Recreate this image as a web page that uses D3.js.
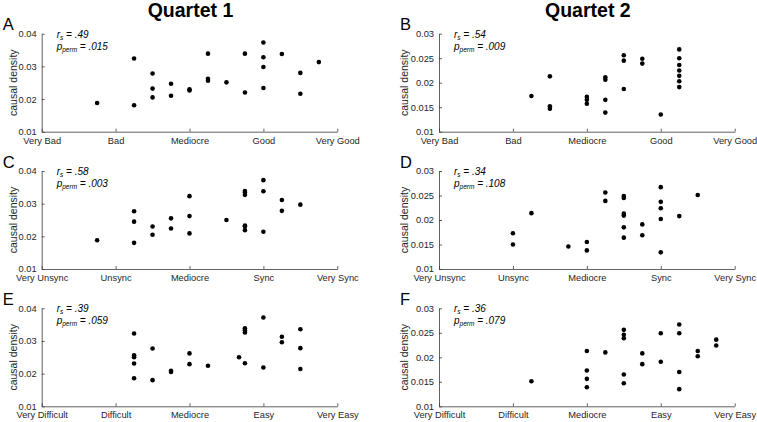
<!DOCTYPE html>
<html><head><meta charset="utf-8">
<script src="https://cdn.jsdelivr.net/npm/d3@7"></script>
<style>
html,body{margin:0;padding:0;background:#fff;}
svg{display:block;font-family:"Liberation Sans",Arial,sans-serif;}
</style></head>
<body>
<svg id="chart" width="757" height="422"></svg>
<script>
// ---- Data ----
const goodLabels = ["Very Bad","Bad","Mediocre","Good","Very Good"];
const syncLabels = ["Very Unsync","Unsync","Mediocre","Sync","Very Sync"];
const diffLabels = ["Very Difficult","Difficult","Mediocre","Easy","Very Easy"];
const yTicksQ1 = [0.01,0.02,0.03,0.04];
const yTicksQ2 = [0.01,0.015,0.02,0.025,0.03];
const quartetTitles = ["Quartet 1","Quartet 2"];

const aX = [1.75,2.25,2.25,2.5,2.5,2.5,2.75,2.75,3,3,3.25,3.25,3.25,3.5,3.75,3.75,4,4,4,4,4.25,4.5,4.5,4.75];
const aY = [0.0188,0.0324,0.0181,0.0278,0.0232,0.0205,0.0247,0.0210,0.0230,0.0226,0.0339,0.0262,0.0256,0.0251,0.0339,0.0220,0.0373,0.0328,0.0298,0.0234,0.0338,0.0280,0.0216,0.0313];

const bX = [2.25,2.5,2.5,2.5,3,3,3,3.25,3.25,3.25,3.25,3.5,3.5,3.5,3.75,3.75,4,4.25,4.25,4.25,4.25,4.25,4.25,4.25];
const bY = [0.0173,0.0213,0.0152,0.0147,0.0171,0.0165,0.0157,0.0211,0.0206,0.0165,0.0139,0.0256,0.0245,0.0187,0.0249,0.0239,0.0135,0.0268,0.0250,0.0236,0.0225,0.0214,0.0203,0.0191];

const cX = [1.75,2.25,2.25,2.25,2.5,2.5,2.75,2.75,3,3,3,3.5,3.75,3.75,3.75,3.75,3.75,3.75,4,4,4,4.25,4.25,4.5];
const cY = [0.0188,0.0277,0.0245,0.0180,0.0230,0.0205,0.0255,0.0224,0.0323,0.0262,0.0209,0.0250,0.0339,0.0334,0.0327,0.0233,0.0231,0.0219,0.0372,0.0338,0.0214,0.0311,0.0278,0.0297];

const dX = [2,2,2.25,2.75,3,3,3.25,3.25,3.5,3.5,3.5,3.5,3.5,3.5,3.75,3.75,4,4,4,4,4,4.25,4.5];
const dY = [0.0173,0.0150,0.0214,0.0146,0.0155,0.0138,0.0256,0.0239,0.0249,0.0245,0.0213,0.0209,0.0185,0.0164,0.0191,0.0169,0.0267,0.0237,0.0224,0.0202,0.0134,0.0208,0.0251];

const eX = [2.25,2.25,2.25,2.25,2.25,2.5,2.5,2.75,2.75,3,3,3.25,3.67,3.75,3.75,3.75,3.75,4,4,4.25,4.25,4.5,4.5,4.5];
const eY = [0.0323,0.0256,0.0250,0.0231,0.0186,0.0277,0.0180,0.0209,0.0205,0.0262,0.0229,0.0224,0.0250,0.0339,0.0333,0.0326,0.0232,0.0372,0.0219,0.0313,0.0296,0.0336,0.0278,0.0214];

const fX = [2.25,3,3,3,3,3.25,3.5,3.5,3.5,3.5,3.5,3.75,3.75,4,4,4.25,4.25,4.25,4.25,4.5,4.5,4.75,4.75];
const fY = [0.0151,0.0213,0.0173,0.0156,0.0139,0.0210,0.0256,0.0246,0.0239,0.0165,0.0147,0.0208,0.0186,0.0249,0.0191,0.0267,0.0249,0.0170,0.0135,0.0213,0.0202,0.0236,0.0224];

const letters = ["A","B","C","D","E","F"];
const rsVals = [".49",".54",".58",".34",".39",".36"];
const pVals = [".015",".009",".003",".108",".059",".079"];

// ---- Layout ----
const svg = d3.select("#chart");
const colX = [[41.7,337.3],[439,734.7]];
const colYLabelOffset = [24.3,30.8];
const rowTop = [33.7,171,308.3];
const plotH = 98;
const axisColor = "#3a3a3a";

const panels = [
  {x:aX,y:aY,col:0,row:0,labels:goodLabels,yt:yTicksQ1,yd:[0.01,0.04]},
  {x:bX,y:bY,col:1,row:0,labels:goodLabels,yt:yTicksQ2,yd:[0.01,0.03]},
  {x:cX,y:cY,col:0,row:1,labels:syncLabels,yt:yTicksQ1,yd:[0.01,0.04]},
  {x:dX,y:dY,col:1,row:1,labels:syncLabels,yt:yTicksQ2,yd:[0.01,0.03]},
  {x:eX,y:eY,col:0,row:2,labels:diffLabels,yt:yTicksQ1,yd:[0.01,0.04]},
  {x:fX,y:fY,col:1,row:2,labels:diffLabels,yt:yTicksQ2,yd:[0.01,0.03]}
];

// titles
quartetTitles.forEach((t,i)=>{
  svg.append("text").attr("x",(colX[i][0]+colX[i][1])/2 + 1).attr("y",16.5)
    .attr("text-anchor","middle").attr("font-size",19.5).attr("font-weight","bold")
    .attr("fill","#000").text(t);
});

panels.forEach((p,i)=>{
  const x0 = colX[p.col][0], x1 = colX[p.col][1];
  const y0 = rowTop[p.row], y1 = y0 + plotH;
  const xs = d3.scaleLinear().domain([1,5]).range([x0,x1]);
  const ys = d3.scaleLinear().domain(p.yd).range([y1,y0]);
  const g = svg.append("g");

  // x axis
  const xAxis = d3.axisBottom(xs).tickValues([1,2,3,4,5])
    .tickFormat((d)=>p.labels[d-1]).tickSizeInner(-3).tickSizeOuter(0).tickPadding(7);
  const gx = g.append("g").attr("transform",`translate(0,${y1})`).call(xAxis);
  // y axis
  const yAxis = d3.axisLeft(ys).tickValues(p.yt)
    .tickFormat(d=>String(+d.toFixed(3))).tickSizeInner(-3).tickSizeOuter(0).tickPadding(5);
  const gy = g.append("g").attr("transform",`translate(${x0},0)`).call(yAxis);
  [gx,gy].forEach(a=>{
    a.select(".domain").attr("stroke",axisColor).attr("stroke-width",0.8);
    a.selectAll(".tick line").attr("stroke",axisColor).attr("stroke-width",0.8);
    a.selectAll(".tick text").attr("fill","#262626").attr("font-size",9.3)
      .attr("font-family","\"Liberation Sans\",Arial,sans-serif");
  });
  gx.selectAll(".tick text").attr("dy","0.55em");

  // y label
  g.append("text").attr("transform",`translate(${x0-colYLabelOffset[p.col]},${(y0+y1)/2}) rotate(-90)`)
    .attr("text-anchor","middle").attr("font-size",10.5).attr("fill","#262626").text("causal density");

  // panel letter
  g.append("text").attr("x",x0-39).attr("y",y0-3.5).attr("font-size",16.5).attr("fill","#000").text(letters[i]);

  // stats
  const st = g.append("text").attr("x",x0+15).attr("y",y0+4).attr("font-size",10)
    .attr("font-style","italic").attr("fill","#000");
  st.append("tspan").text("r");
  st.append("tspan").attr("font-size",6.5).attr("dy",2).text("s");
  st.append("tspan").attr("dy",-2).text(" = " + rsVals[i]);
  const sp = g.append("text").attr("x",x0+15).attr("y",y0+16).attr("font-size",10)
    .attr("font-style","italic").attr("fill","#000");
  sp.append("tspan").text("p");
  sp.append("tspan").attr("font-size",6.5).attr("dy",2).text("perm");
  sp.append("tspan").attr("dy",-2).text(" = " + pVals[i]);

  // dots
  g.selectAll("circle.pt").data(p.x.map((v,k)=>[v,p.y[k]])).enter().append("circle")
    .attr("class","pt").attr("cx",d=>xs(d[0])).attr("cy",d=>ys(d[1])).attr("r",2.3).attr("fill","#000");
});
</script>
</body></html>
